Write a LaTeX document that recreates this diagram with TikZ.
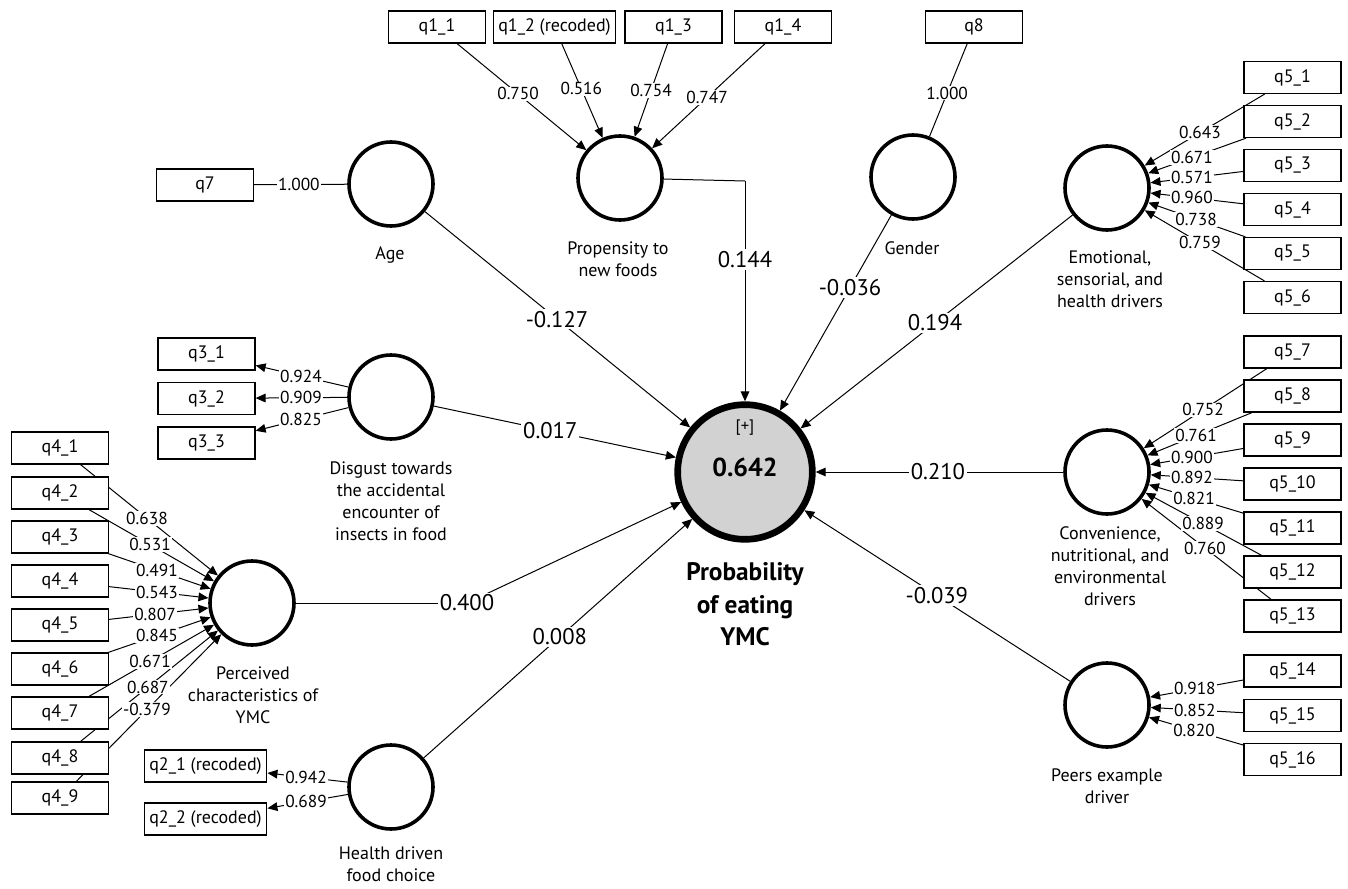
\documentclass[tikz,border=0pt]{standalone}
\usepackage{fontspec}
\setmainfont{PT Sans}
\usetikzlibrary{arrows.meta,calc,backgrounds}
\begin{document}
\begin{tikzpicture}[x=0.75pt,y=-0.75pt,
  ind/.style={draw,line width=0.9pt,fill=white,minimum width=72.75pt,minimum height=24pt,inner sep=0pt,font=\fontsize{13.5}{15}\selectfont},
  indw/.style={ind,minimum width=92pt},
  lat/.style={circle,draw,line width=2.7pt,fill=white,minimum size=63pt,inner sep=0pt},
  ymc/.style={circle,draw,line width=5pt,fill=gray!35,minimum size=101pt,inner sep=0pt},
  lbl/.style={font=\fontsize{13.5}{16.5}\selectfont,align=center,inner sep=0pt},
  ld/.style={fill=white,inner sep=0.8pt,font=\fontsize{13}{14}\selectfont},
  pc/.style={fill=white,inner sep=1.5pt,font=\fontsize{17}{19}\selectfont},
  con/.style={line width=0.75pt},
  arr/.style={con,-{Triangle[length=7.5pt,width=6.5pt]}},
]
\useasboundingbox (0,0) rectangle (1348,888);

% latent variables
\node[lat] (A) at (391,184) {};
\node[lat] (F) at (620,178) {};
\node[lat] (G) at (913,177) {};
\node[lat] (E) at (1107,188) {};
\node[lat] (D) at (391,397) {};
\node[lat] (P) at (252,603) {};
\node[lat] (H) at (391,787) {};
\node[lat] (C) at (1107,472) {};
\node[lat] (R) at (1107,705) {};
\node[ymc] (Y) at (745,472) {};
\node[font=\fontsize{12.5}{13}\selectfont] (Yplus) at (745,428) {[+]};
\node[font=\fontsize{19.5}{21}\selectfont\bfseries] (Yr2) at (745,467) {0.642};

% latent labels
\node[lbl] (LA) at (390,255) {Age};
\node[lbl] (LF) at (618,259) {Propensity to\\new foods};
\node[lbl] (LG) at (912,248) {Gender};
\node[lbl] (LE) at (1110,279.5) {Emotional,\\sensorial, and\\health drivers};
\node[lbl] (LD) at (391,501) {Disgust towards\\the accidental\\encounter of\\insects in food};
\node[lbl] (LP) at (253,695) {Perceived\\characteristics of\\YMC};
\node[lbl] (LH) at (391,864) {Health driven\\food choice};
\node[lbl] (LC) at (1110,566.5) {Convenience,\\nutritional, and\\environmental\\drivers};
\node[lbl] (LR) at (1107,786) {Peers example\\driver};
\node[lbl,font=\fontsize{19}{24.4}\selectfont\bfseries] (LY) at (745,604.5) {Probability\\of eating\\YMC};

% indicators
\node[ind] (q11) at (437,27) {q1\_1};
\node[indw] (q12) at (554.5,27) {q1\_2 (recoded)};
\node[ind] (q13) at (673.5,27) {q1\_3};
\node[ind] (q14) at (783,27) {q1\_4};
\node[ind] (q8) at (974,27) {q8};
\node[ind] (q7) at (205,185) {q7};
\node[ind] (q31) at (206.5,354) {q3\_1};
\node[ind] (q32) at (206.5,398.5) {q3\_2};
\node[ind] (q33) at (206.5,443) {q3\_3};
\node[ind] (q41) at (60,448) {q4\_1};
\node[ind] (q42) at (60,493) {q4\_2};
\node[ind] (q43) at (60,537) {q4\_3};
\node[ind] (q44) at (60,581) {q4\_4};
\node[ind] (q45) at (60,625) {q4\_5};
\node[ind] (q46) at (60,669) {q4\_6};
\node[ind] (q47) at (60,713) {q4\_7};
\node[ind] (q48) at (60,758) {q4\_8};
\node[ind] (q49) at (60,798) {q4\_9};
\node[indw] (q21) at (205.5,766) {q2\_1 (recoded)};
\node[indw] (q22) at (205.5,819) {q2\_2 (recoded)};
\node[ind] (q51) at (1292.5,77.5) {q5\_1};
\node[ind] (q52) at (1292.5,121.5) {q5\_2};
\node[ind] (q53) at (1292.5,165.5) {q5\_3};
\node[ind] (q54) at (1292.5,209.5) {q5\_4};
\node[ind] (q55) at (1292.5,253.5) {q5\_5};
\node[ind] (q56) at (1292.5,297.5) {q5\_6};
\node[ind] (q57) at (1292.5,352) {q5\_7};
\node[ind] (q58) at (1292.5,396) {q5\_8};
\node[ind] (q59) at (1292.5,440) {q5\_9};
\node[ind] (q510) at (1292.5,484) {q5\_10};
\node[ind] (q511) at (1292.5,528) {q5\_11};
\node[ind] (q512) at (1292.5,572) {q5\_12};
\node[ind] (q513) at (1292.5,616) {q5\_13};
\node[ind] (q514) at (1292.5,671) {q5\_14};
\node[ind] (q515) at (1292.5,715.5) {q5\_15};
\node[ind] (q516) at (1292.5,759.5) {q5\_16};

\coordinate (bP) at (467,603);
\coordinate (bF) at (745,181);

% connectors
\begin{scope}[on background layer]
  % formative / single indicators
  \draw[arr] (q11) -- (F);
  \draw[arr] (q12) -- (F);
  \draw[arr] (q13) -- (F);
  \draw[arr] (q14) -- (F);
  \draw[con] (q8) -- (G);
  \draw[con] (q7) -- (A);
  \foreach \i in {41,42,43,44,45,46,47,48,49} {\draw[arr] (q\i) -- (P);}
  \foreach \i in {51,52,53,54,55,56} {\draw[arr] (q\i) -- (E);}
  \foreach \i in {57,58,59,510,511,512,513} {\draw[arr] (q\i) -- (C);}
  \foreach \i in {514,515,516} {\draw[arr] (q\i) -- (R);}
  % reflective
  \foreach \i in {31,32,33} {\draw[arr] (D) -- (q\i);}
  \draw[arr] (H) -- (q21);
  \draw[arr] (H) -- (q22);
  % structural
  \draw[arr] (A) -- (Y);
  \draw[con] (F) -- (bF);
  \draw[arr] (bF) -- (Y);
  \draw[arr] (G) -- (Y);
  \draw[arr] (E) -- (Y);
  \draw[arr] (D) -- (Y);
  \draw[arr] (C) -- (Y);
  \draw[con] (P) -- (bP);
  \draw[arr] (bP) -- (Y);
  \draw[arr] (H) -- (Y);
  \draw[arr] (R) -- (Y);
\end{scope}

% loading labels
\node[ld] at ($(q11)!0.443!(F)$) {0.750};
\node[ld] at ($(q12)!0.41!(F)$) {0.516};
\node[ld] at ($(q13)!0.42!(F)$) {0.754};
\node[ld] at ($(q14)!0.466!(F)$) {0.747};
\node[ld] at ($(q8)!0.44!(G)$) {1.000};
\node[ld] at ($(q7)!0.505!(A)$) {1.000};
\node[ld] at ($(q31)!0.512!(D)$) {0.924};
\node[ld] at ($(q32)!0.512!(D)$) {0.909};
\node[ld] at ($(q33)!0.512!(D)$) {0.825};
\node[ld] at ($(q41)!0.453!(P)$) {0.638};
\node[ld] at ($(q42)!0.469!(P)$) {0.531};
\node[ld] at ($(q43)!0.505!(P)$) {0.491};
\node[ld] at ($(q44)!0.505!(P)$) {0.543};
\node[ld] at ($(q45)!0.495!(P)$) {0.807};
\node[ld] at ($(q46)!0.505!(P)$) {0.845};
\node[ld] at ($(q47)!0.469!(P)$) {0.671};
\node[ld] at ($(q48)!0.458!(P)$) {0.687};
\node[ld] at ($(q49)!0.453!(P)$) {-0.379};
\node[ld] at ($(q21)!0.542!(H)$) {0.942};
\node[ld] at ($(q22)!0.542!(H)$) {0.689};
\node[ld] at ($(q51)!0.499!(E)$) {0.643};
\node[ld] at ($(q52)!0.542!(E)$) {0.671};
\node[ld] at ($(q53)!0.542!(E)$) {0.571};
\node[ld] at ($(q54)!0.542!(E)$) {0.960};
\node[ld] at ($(q55)!0.520!(E)$) {0.738};
\node[ld] at ($(q56)!0.499!(E)$) {0.759};
\node[ld] at ($(q57)!0.482!(C)$) {0.752};
\node[ld] at ($(q58)!0.520!(C)$) {0.761};
\node[ld] at ($(q59)!0.542!(C)$) {0.900};
\node[ld] at ($(q510)!0.542!(C)$) {0.892};
\node[ld] at ($(q511)!0.531!(C)$) {0.821};
\node[ld] at ($(q512)!0.482!(C)$) {0.889};
\node[ld] at ($(q513)!0.472!(C)$) {0.760};
\node[ld] at ($(q514)!0.526!(R)$) {0.918};
\node[ld] at ($(q515)!0.526!(R)$) {0.852};
\node[ld] at ($(q516)!0.531!(R)$) {0.820};

% path coefficients
\node[pc] at ($(A)!0.469!(Y)$) {-0.127};
\node[pc] at ($(bF)!0.27!(Y)$) {0.144};
\node[pc] at ($(G)!0.375!(Y)$) {-0.036};
\node[pc] at ($(E)!0.475!(Y)$) {0.194};
\node[pc] at ($(D)!0.45!(Y)$) {0.017};
\node[pc] at ($(C)!0.467!(Y)$) {0.210};
\node[pc] at (bP) {0.400};
\node[pc] at ($(H)!0.477!(Y)$) {0.008};
\node[pc] at ($(R)!0.47!(Y)$) {-0.039};
\end{tikzpicture}
\end{document}
